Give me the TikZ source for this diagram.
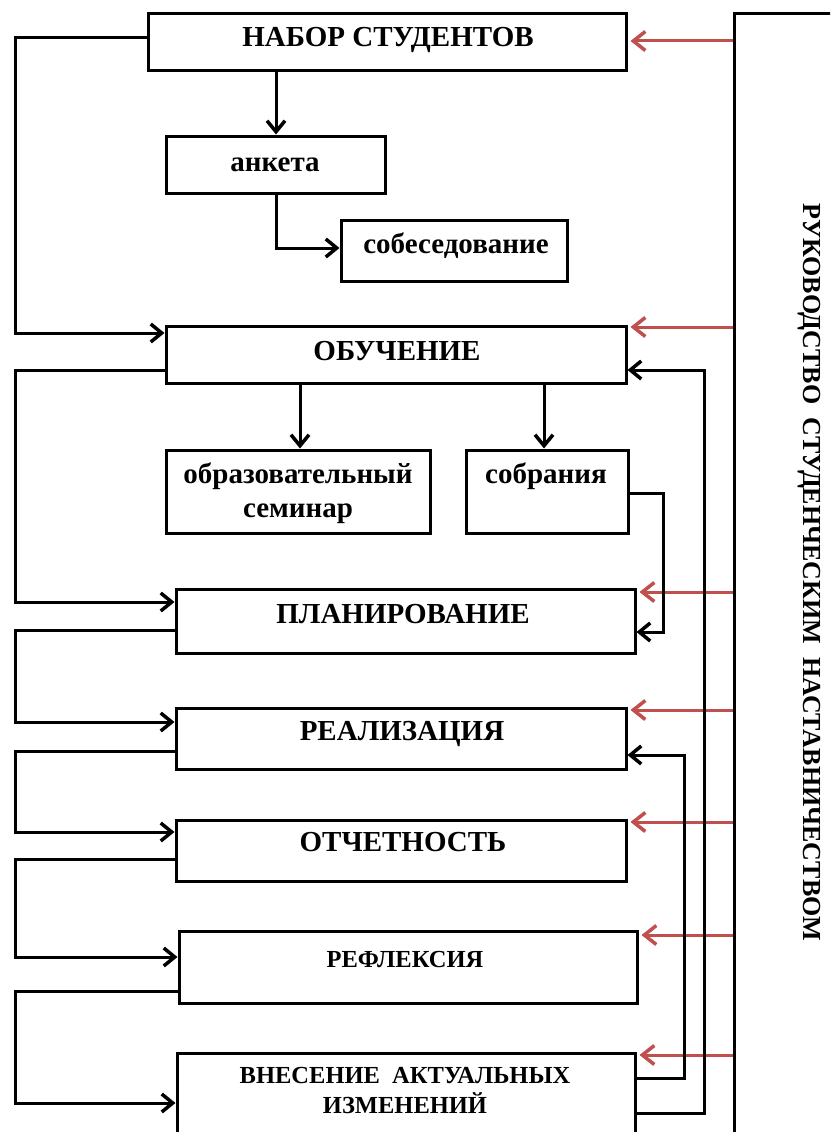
\documentclass[tikz,border=0pt]{standalone}
\usepackage{fontspec}
\setmainfont{Liberation Serif}
\usetikzlibrary{arrows.meta}
\definecolor{redarrow}{HTML}{C0504D}
\begin{document}
\begin{tikzpicture}[x=1pt,y=-1pt,
  box/.style={draw, line width=3pt, rectangle, inner sep=0pt},
  txt/.style={font=\bfseries\fontsize{29}{34}\selectfont, inner sep=0pt},
  stxt/.style={font=\bfseries\fontsize{24.5}{30}\selectfont, inner sep=0pt},
  vtxt/.style={font=\bfseries\fontsize{26}{30}\selectfont, inner sep=0pt},
  conn/.style={line width=3pt, line join=miter},
  arr/.style={conn, -{Straight Barb[length=11pt,width=18pt,line width=3.5pt]}},
  redarr/.style={line width=3pt, draw=redarrow, shorten >=3pt,
    -{Straight Barb[length=12pt,width=19pt,line width=3.5pt]}},
]
\useasboundingbox (0,0) rectangle (830,1132);
\clip (0,0) rectangle (830,1132);

% boxes
\node[box, minimum width=478pt, minimum height=57pt] (nabor) at (387,42.5) {};
\node[box, minimum width=219pt, minimum height=57pt] (anketa) at (275.5,164.5) {};
\node[box, minimum width=226pt, minimum height=61pt] (sobes) at (454,250.5) {};
\node[box, minimum width=460pt, minimum height=57pt] (obuch) at (396,354.5) {};
\node[box, minimum width=264pt, minimum height=83pt] (seminar) at (298,491.5) {};
\node[box, minimum width=162pt, minimum height=83pt] (sobr) at (547,491.5) {};
\node[box, minimum width=459pt, minimum height=64pt] (plan) at (405.5,621) {};
\node[box, minimum width=450pt, minimum height=61pt] (real) at (401,738.5) {};
\node[box, minimum width=450pt, minimum height=61pt] (otch) at (401,850.5) {};
\node[box, minimum width=458pt, minimum height=72pt] (refl) at (408,967) {};
\node[box, minimum width=458pt, minimum height=92pt] (vnes) at (406,1099) {};
\node[box, minimum width=166pt, minimum height=1186pt] (frame) at (817,607) {};

% texts
\node[txt, anchor=base] (tnabor) at (388,47) {НАБОР СТУДЕНТОВ};
\node[txt, anchor=base] (tanketa) at (275,171) {анкета};
\node[txt, anchor=base] (tsobes) at (456,253) {собеседование};
\node[txt, anchor=base] (tobuch) at (397,360) {ОБУЧЕНИЕ};
\node[txt, align=center] (tseminar) at (298,493) {образовательный\\семинар};
\node[txt, anchor=base] (tsobr) at (546,483) {собрания};
\node[txt, anchor=base] (tplan) at (403,623) {ПЛАНИРОВАНИЕ};
\node[txt, anchor=base] (treal) at (402,740) {РЕАЛИЗАЦИЯ};
\node[txt, anchor=base] (totch) at (403,851) {ОТЧЕТНОСТЬ};
\node[stxt, anchor=base] (trefl) at (405,967) {РЕФЛЕКСИЯ};
\node[stxt, align=center] (tvnes) at (405,1090) {ВНЕСЕНИЕ\ \ АКТУАЛЬНЫХ\\ИЗМЕНЕНИЙ};
\node[vtxt, rotate=-90] (tvert) at (809.5,572.5) {РУКОВОДСТВО\ \ СТУДЕНЧЕСКИМ\ \ НАСТАВНИЧЕСТВОМ};

% red arrows from the frame
\draw[redarr] (frame.west |- 0,41) -- (nabor.east |- 0,41);
\draw[redarr] (frame.west |- 0,327) -- (obuch.east |- 0,327);
\draw[redarr] (frame.west |- 0,592) -- (plan.east |- 0,592);
\draw[redarr] (frame.west |- 0,710) -- (real.east |- 0,710);
\draw[redarr] (frame.west |- 0,822) -- (otch.east |- 0,822);
\draw[redarr] (frame.west |- 0,935) -- (refl.east |- 0,935);
\draw[redarr] (frame.west |- 0,1055) -- (vnes.east |- 0,1055);

% black connectors
\draw[arr] (nabor.west |- 0,38) -- (15,38) -- (15,333) -- (obuch.west |- 0,333);
\draw[arr] (nabor.south -| 276,0) -- (anketa.north -| 276,0);
\draw[arr] (anketa.south -| 276,0) -- (276,248) -- (sobes.west |- 0,248);
\draw[arr] (obuch.west |- 0,370) -- (15,370) -- (15,602) -- (plan.west |- 0,602);
\draw[arr] (obuch.south -| 300,0) -- (seminar.north -| 300,0);
\draw[arr] (obuch.south -| 544,0) -- (sobr.north -| 544,0);
\draw[arr] (sobr.east |- 0,493) -- (663,493) -- (663,632) -- (plan.east |- 0,632);
\draw[arr] (plan.west |- 0,630) -- (15,630) -- (15,722) -- (real.west |- 0,722);
\draw[arr] (real.west |- 0,751) -- (15,751) -- (15,832) -- (otch.west |- 0,832);
\draw[arr] (otch.west |- 0,859) -- (15,859) -- (15,957) -- (refl.west |- 0,957);
\draw[arr] (refl.west |- 0,991) -- (15,991) -- (15,1103) -- (vnes.west |- 0,1103);
\draw[arr] (vnes.east |- 0,1078) -- (684,1078) -- (684,755) -- (real.east |- 0,755);
\draw[arr] (vnes.east |- 0,1113) -- (704,1113) -- (704,370) -- (obuch.east |- 0,370);
\end{tikzpicture}
\end{document}
